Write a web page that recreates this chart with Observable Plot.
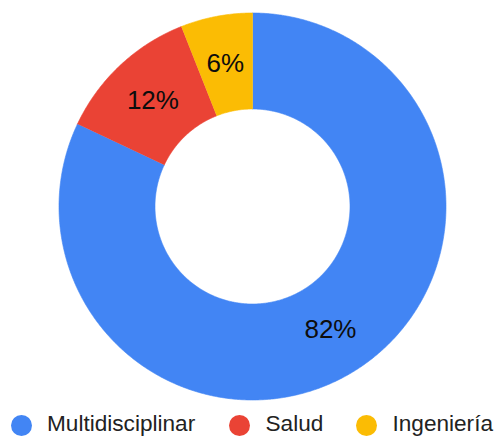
<!DOCTYPE html>
<html><head><meta charset="utf-8">
<script src="https://cdn.jsdelivr.net/npm/d3@7"></script>
<script src="https://cdn.jsdelivr.net/npm/@observablehq/plot@0.6"></script>
<style>
body{margin:0;background:#fff;font-family:"Liberation Sans",Arial,sans-serif;}
#wrap{position:relative;width:496px;height:436px;overflow:hidden}
.item{position:absolute;top:412px;height:24px;line-height:24px;display:flex;align-items:center;font-size:22.6px;color:#222;white-space:nowrap}
.sw{width:21px;height:21px;border-radius:50%;margin-right:15.5px;position:relative;top:1.5px;flex:none}
</style></head><body><div id="wrap"></div>
<script>
const categories = ["Multidisciplinar", "Salud", "Ingeniería"];
const values = [82, 12, 6];
const colors = ["#4285F4", "#EA4335", "#FBBC04"];

// layout
const W = 496, H = 404, cx = 252, cy = 206, R = 193.5, inner = 97.5 / 193.5;

const total = d3.sum(values);
const pts = [];
const labels = [];
let acc = 0;
categories.forEach((cat, i) => {
  const a0 = acc / total * 2 * Math.PI;
  acc += values[i];
  const a1 = acc / total * 2 * Math.PI;
  const n = Math.max(2, Math.ceil((a1 - a0) / (Math.PI / 360)));
  for (let k = 0; k <= n; k++) {
    const a = a0 + (a1 - a0) * k / n;
    pts.push({cat, x: Math.sin(a), y: Math.cos(a)});
  }
  for (let k = n; k >= 0; k--) {
    const a = a0 + (a1 - a0) * k / n;
    pts.push({cat, x: inner * Math.sin(a), y: inner * Math.cos(a)});
  }
  const am = (a0 + a1) / 2, rm = (1 + inner) / 2;
  labels.push({cat, label: values[i] + "%", x: rm * Math.sin(am), y: rm * Math.cos(am)});
});

const chart = Plot.plot({
  width: W, height: H, margin: 0,
  style: {fontFamily: "'Liberation Sans', Arial, sans-serif", background: "#fff"},
  x: {domain: [-1, 1], range: [cx - R, cx + R], axis: null},
  y: {domain: [-1, 1], range: [cy + R, cy - R], axis: null},
  color: {domain: categories, range: colors},
  marks: [
    Plot.line(pts, {x: "x", y: "y", z: "cat", fill: "cat", stroke: "cat", strokeWidth: 0.6, curve: "linear"}),
    Plot.text(labels, {x: "x", y: "y", text: "label", fontSize: 26, fill: "#0d0d0d"})
  ]
});
const wrap = document.getElementById("wrap");
wrap.appendChild(chart);

const lefts = [10.5, 229, 356];
categories.forEach((cat, i) => {
  const it = document.createElement("div");
  it.className = "item";
  it.style.left = lefts[i] + "px";
  const sw = document.createElement("span");
  sw.className = "sw";
  sw.style.background = colors[i];
  const t = document.createElement("span");
  t.textContent = cat;
  it.appendChild(sw); it.appendChild(t);
  wrap.appendChild(it);
});
</script></body></html>
